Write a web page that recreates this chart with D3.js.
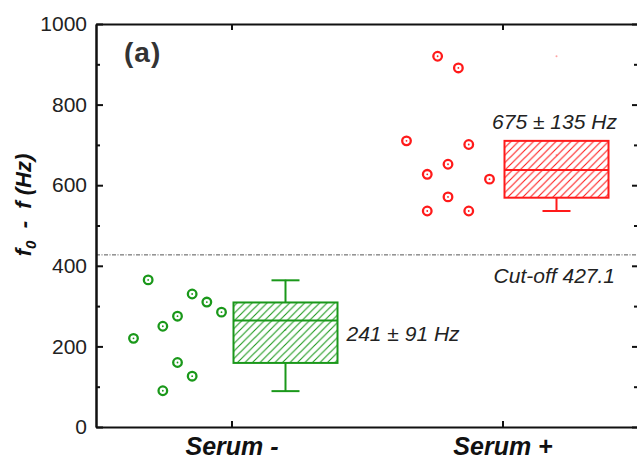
<!DOCTYPE html>
<html>
<head>
<meta charset="utf-8">
<script src="https://cdn.jsdelivr.net/npm/d3@7"></script>
<style>
	body { margin: 0; background: #fff; }
	text { font-family: "Liberation Sans", Arial, sans-serif; }
</style>
</head>
<body>
<script>
// categories and colours
var groups = ['Serum -', 'Serum +'];
var groupColours = ['#1a981a', '#ff1a1a'];

// scatter values (Hz) and their jitter column, per group
var serumNegValues = [220, 365, 250, 90, 275, 160, 330, 126, 310, 285];
var serumNegCols   = [0, 1, 2, 2, 3, 3, 4, 4, 5, 6];
var serumPosValues = [710, 627, 536, 920, 652, 571, 891, 701, 536, 615];
var serumPosCols   = [0, 2, 2, 3, 4, 4, 5, 6, 6, 8];

// box statistics per group
var q1s      = [159, 569];
var medians  = [264, 638];
var q3s      = [309, 710];
var whiskLow = [89, 536];
var whiskHi  = [364, 710];
var means    = [241, 675];
var maxes    = [364, 920];
var boxLabels = ['241 \u00b1 91 Hz', '675 \u00b1 135 Hz'];

var cutoff = 427.1;
var yMajor = [0, 200, 400, 600, 800, 1000];
var yMinor = [100, 300, 500, 700, 900];

var W = 637, H = 459;
var pad = { left: 96, right: 638, top: 24, bottom: 427 };

var svg = d3.select('body').append('svg')
	.attr('width', W)
	.attr('height', H);

var x = d3.scaleLinear().domain([0.5, 2.5]).range([pad.left, pad.right]);
var y = d3.scaleLinear().domain([0, 1000]).range([pad.bottom, pad.top]);

// jitter columns in px to the left of the category centre
var jitNeg = d3.scaleLinear().domain([0, 6]).range([-98, -10]);
var jitPos = d3.scaleLinear().domain([0, 8]).range([-96, -13]);

// hatch patterns
var defs = svg.append('defs');
groupColours.forEach(function(c, i) {
	var p = defs.append('pattern')
		.attr('id', 'hatch' + i)
		.attr('patternUnits', 'userSpaceOnUse')
		.attr('width', 7.5)
		.attr('height', 7.5);
	p.append('path')
		.attr('d', 'M-1,1 l2,-2 M0,7.5 l7.5,-7.5 M6.5,8.5 l2,-2')
		.attr('stroke', c)
		.attr('stroke-width', 1.1);
});

// cut-off line
svg.append('line')
	.attr('x1', pad.left).attr('x2', pad.right)
	.attr('y1', y(cutoff)).attr('y2', y(cutoff))
	.attr('stroke', '#555')
	.attr('stroke-width', 1)
	.attr('stroke-dasharray', '4,1.5,1,1.5');

svg.append('text')
	.attr('x', 615)
	.attr('y', y(cutoff) + 28)
	.attr('text-anchor', 'end')
	.attr('font-size', 21)
	.attr('font-style', 'italic')
	.attr('fill', '#222')
	.text('Cut-off ' + cutoff);

// boxes
var boxOff = 54, boxW = 104, capW = 28;
groups.forEach(function(g, i) {
	var cx = x(i + 1) + boxOff;
	var col = groupColours[i];
	var gb = svg.append('g');

	// whiskers
	if (whiskHi[i] > q3s[i]) {
		gb.append('line')
			.attr('x1', cx).attr('x2', cx)
			.attr('y1', y(q3s[i])).attr('y2', y(whiskHi[i]))
			.attr('stroke', col).attr('stroke-width', 2);
		gb.append('line')
			.attr('x1', cx - capW / 2).attr('x2', cx + capW / 2)
			.attr('y1', y(whiskHi[i])).attr('y2', y(whiskHi[i]))
			.attr('stroke', col).attr('stroke-width', 2);
	}
	gb.append('line')
		.attr('x1', cx).attr('x2', cx)
		.attr('y1', y(q1s[i])).attr('y2', y(whiskLow[i]))
		.attr('stroke', col).attr('stroke-width', 2);
	gb.append('line')
		.attr('x1', cx - capW / 2).attr('x2', cx + capW / 2)
		.attr('y1', y(whiskLow[i])).attr('y2', y(whiskLow[i]))
		.attr('stroke', col).attr('stroke-width', 2);

	gb.append('rect')
		.attr('x', cx - boxW / 2)
		.attr('y', y(q3s[i]))
		.attr('width', boxW)
		.attr('height', y(q1s[i]) - y(q3s[i]))
		.attr('fill', 'url(#hatch' + i + ')')
		.attr('stroke', col)
		.attr('stroke-width', 2);

	gb.append('line')
		.attr('x1', cx - boxW / 2).attr('x2', cx + boxW / 2)
		.attr('y1', y(medians[i])).attr('y2', y(medians[i]))
		.attr('stroke', col).attr('stroke-width', 2);

	// faint mean / max markers
	gb.append('circle')
		.attr('cx', cx).attr('cy', y(means[i]))
		.attr('r', 1).attr('fill', col).attr('opacity', 0.4);
	gb.append('circle')
		.attr('cx', cx).attr('cy', y(maxes[i]))
		.attr('r', 1).attr('fill', col).attr('opacity', 0.4);
});

// box value labels
svg.append('text')
	.attr('x', x(1) + boxOff + boxW / 2 + 9)
	.attr('y', y(241) + 11)
	.attr('font-size', 21)
	.attr('font-style', 'italic')
	.attr('fill', '#222')
	.text(boxLabels[0]);

svg.append('text')
	.attr('x', x(2) + boxOff - 2)
	.attr('y', y(q3s[1]) - 12)
	.attr('text-anchor', 'middle')
	.attr('font-size', 21)
	.attr('font-style', 'italic')
	.attr('fill', '#222')
	.text(boxLabels[1]);

// scatter points
var pts = [];
serumNegValues.forEach(function(v, i) {
	pts.push({ x: x(1) + jitNeg(serumNegCols[i]), v: v, c: groupColours[0] });
});
serumPosValues.forEach(function(v, i) {
	pts.push({ x: x(2) + jitPos(serumPosCols[i]), v: v, c: groupColours[1] });
});

var pg = svg.append('g').selectAll('g')
	.data(pts).enter()
	.append('g');
pg.append('circle')
	.attr('cx', function(d) { return d.x; })
	.attr('cy', function(d) { return y(d.v); })
	.attr('r', 4.3)
	.attr('fill', 'none')
	.attr('stroke', function(d) { return d.c; })
	.attr('stroke-width', 2.3);
pg.append('circle')
	.attr('cx', function(d) { return d.x; })
	.attr('cy', function(d) { return y(d.v); })
	.attr('r', 0.9)
	.attr('fill', function(d) { return d.c; });

// axes
var yAx = svg.append('g')
	.attr('transform', 'translate(' + pad.left + ',0)')
	.call(d3.axisLeft(y).tickValues(yMajor).tickFormat(d3.format('d')).tickSizeInner(-7).tickSizeOuter(0).tickPadding(9));
svg.append('g')
	.attr('transform', 'translate(' + pad.left + ',0)')
	.call(d3.axisLeft(y).tickValues(yMinor).tickFormat('').tickSizeInner(-4).tickSizeOuter(0));
svg.append('g')
	.attr('transform', 'translate(' + pad.right + ',0)')
	.call(d3.axisRight(y).tickValues(yMajor).tickFormat('').tickSizeInner(-6).tickSizeOuter(0));
svg.append('g')
	.attr('transform', 'translate(' + pad.right + ',0)')
	.call(d3.axisRight(y).tickValues(yMinor).tickFormat('').tickSizeInner(-4).tickSizeOuter(0));

var xAx = svg.append('g')
	.attr('transform', 'translate(0,' + pad.bottom + ')')
	.call(d3.axisBottom(x).tickValues([1, 2]).tickFormat(function(d) { return groups[d - 1]; })
		.tickSizeInner(-6).tickSizeOuter(0));
svg.append('g')
	.attr('transform', 'translate(0,' + pad.top + ')')
	.call(d3.axisTop(x).tickValues([1, 2]).tickFormat('').tickSizeInner(-6).tickSizeOuter(0));

svg.selectAll('.domain').attr('stroke', '#111').attr('stroke-width', 2);
svg.selectAll('.tick line').attr('stroke', '#111').attr('stroke-width', 2);

yAx.selectAll('text')
	.attr('font-family', '"Liberation Sans", Arial, sans-serif')
	.attr('font-size', 21)
	.attr('fill', '#222');

xAx.selectAll('text')
	.attr('font-family', '"Liberation Sans", Arial, sans-serif')
	.attr('font-size', 25)
	.attr('font-weight', 'bold')
	.attr('font-style', 'italic')
	.attr('fill', '#111')
	.attr('dy', 0)
	.attr('y', 28);

// y title
var yt = svg.append('text')
	.attr('transform', 'translate(31,205) rotate(-90)')
	.attr('text-anchor', 'middle')
	.attr('font-size', 22)
	.attr('font-weight', 'bold')
	.attr('font-style', 'italic')
	.attr('fill', '#111')
	.attr('xml:space', 'preserve');
yt.append('tspan').text('f');
yt.append('tspan').attr('font-size', 15).attr('dy', 5).text('0');
yt.append('tspan').attr('dy', -5).text('  -  f (Hz)');

// panel label
svg.append('text')
	.attr('x', 124)
	.attr('y', 62)
	.attr('font-size', 28)
	.attr('font-weight', 'bold')
	.attr('letter-spacing', 1)
	.attr('fill', '#333')
	.text('(a)');
</script>
</body>
</html>
